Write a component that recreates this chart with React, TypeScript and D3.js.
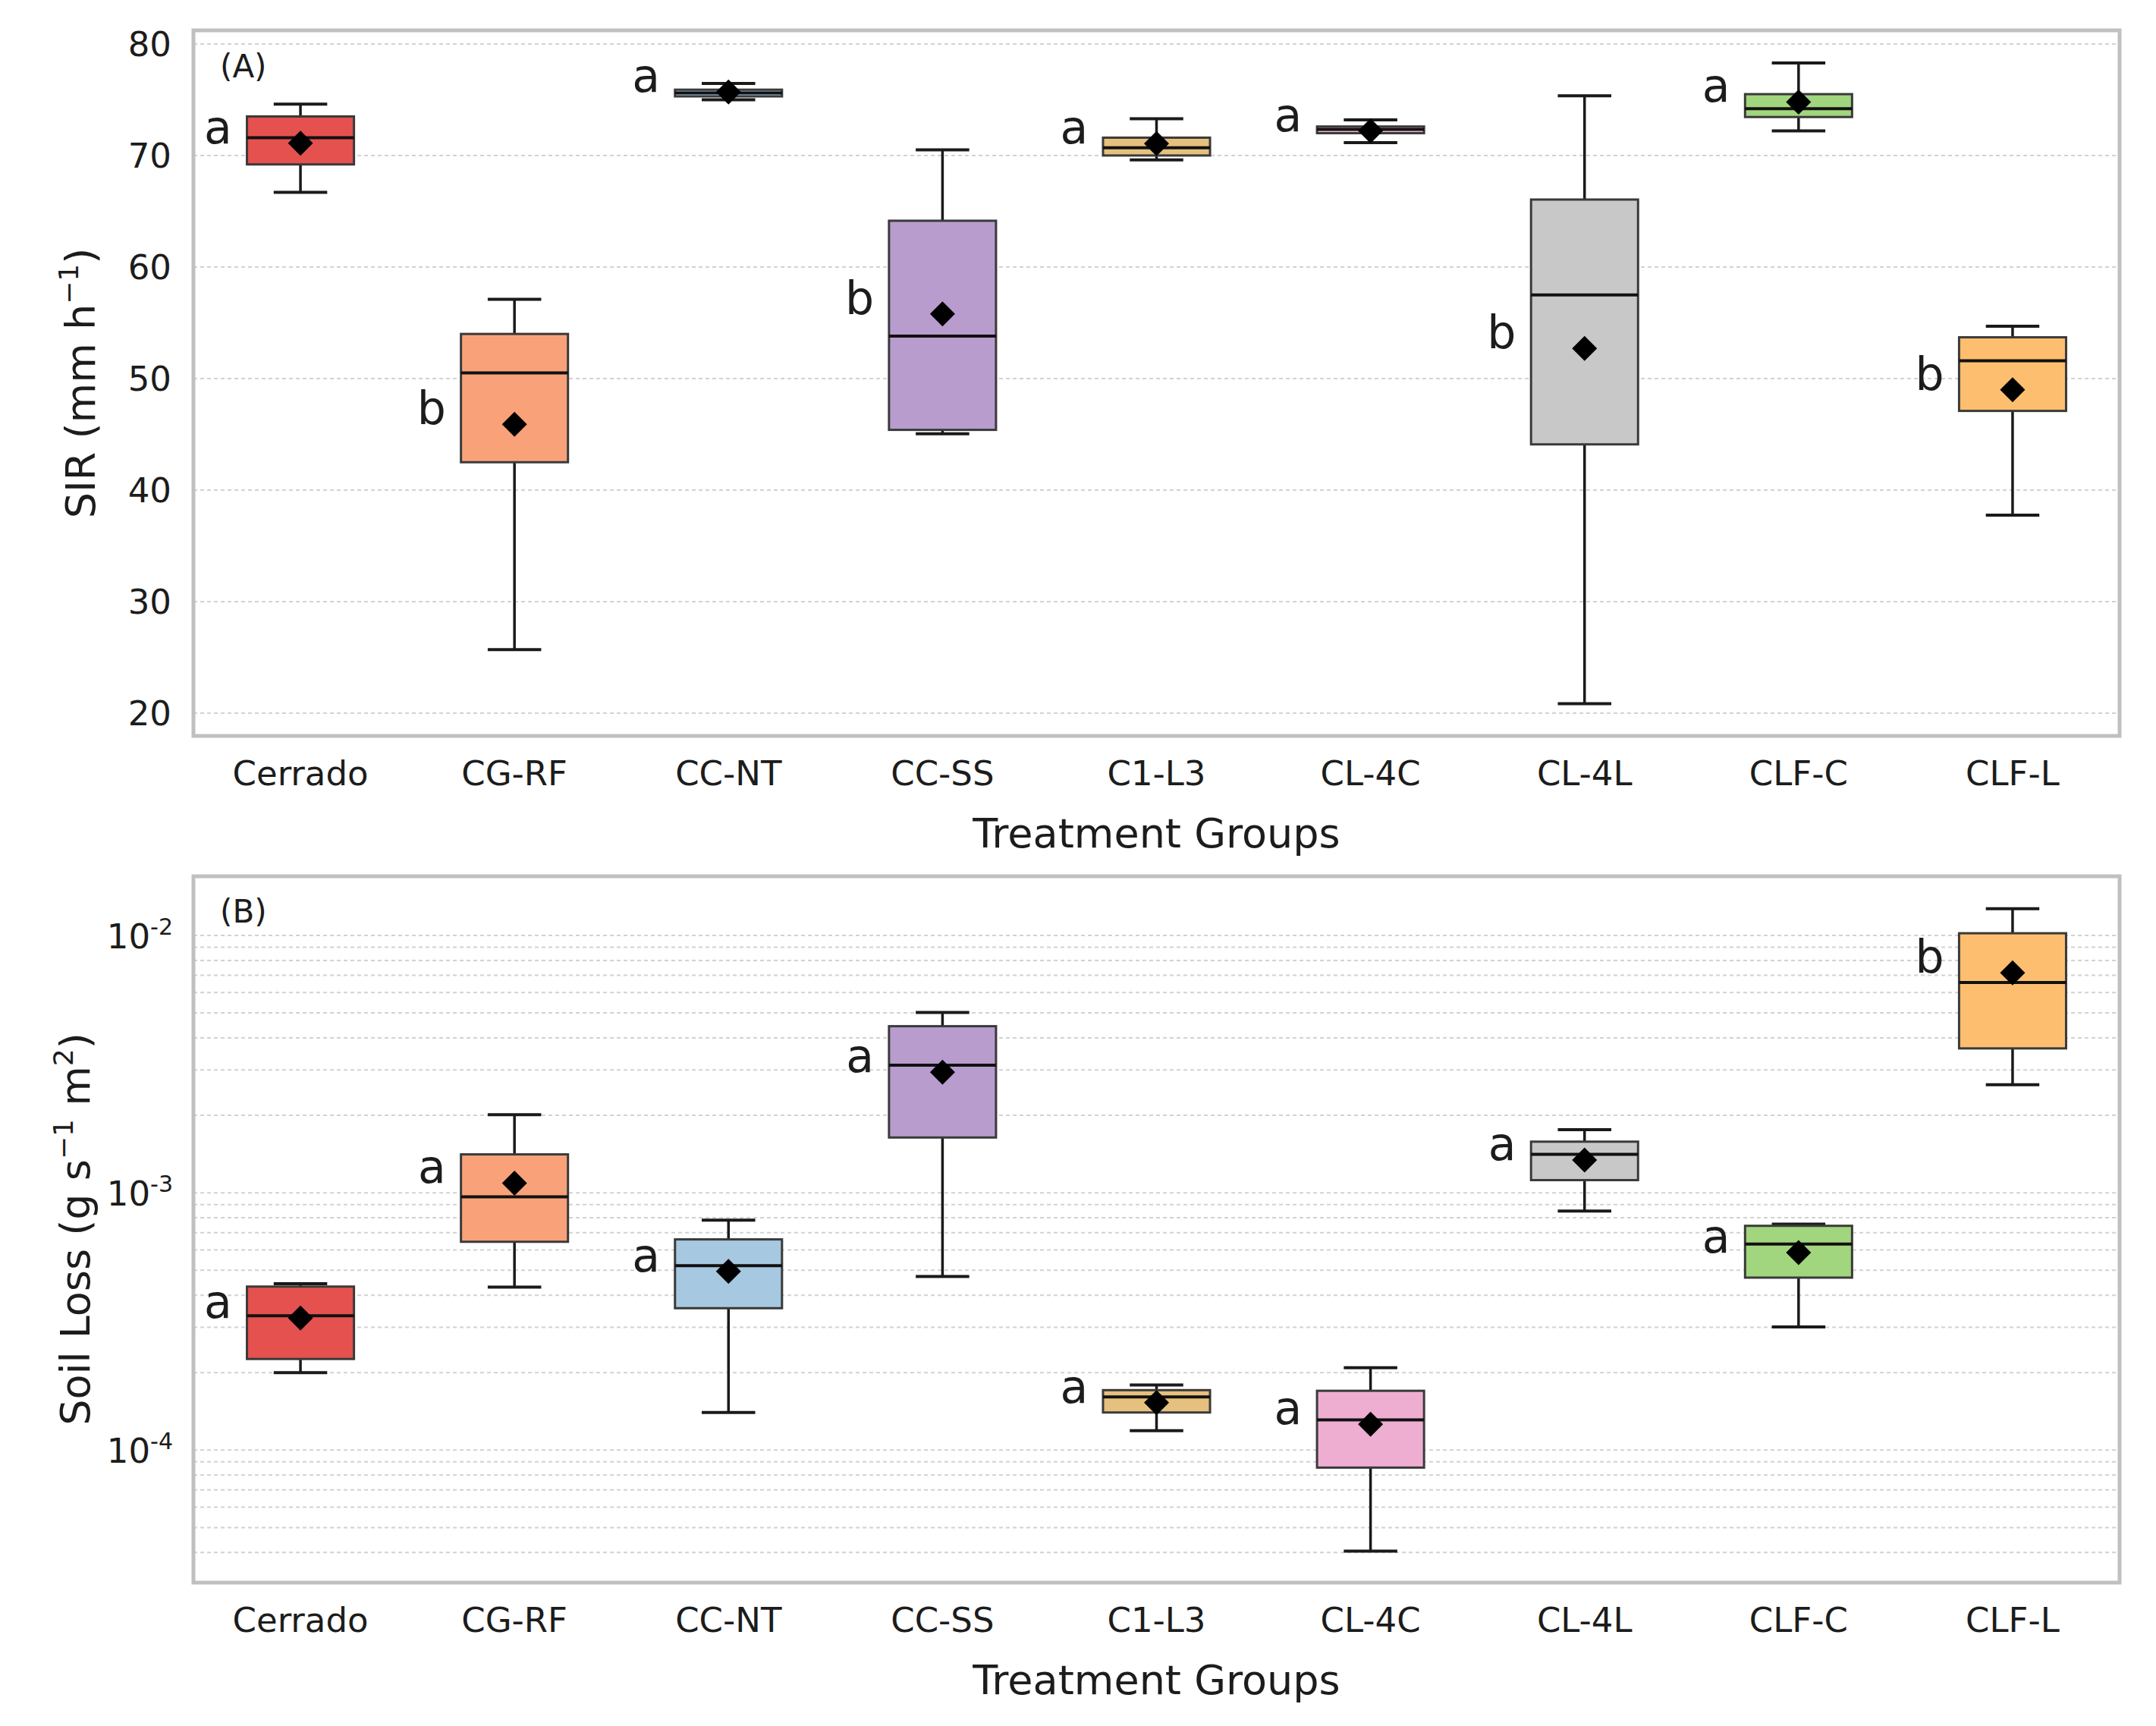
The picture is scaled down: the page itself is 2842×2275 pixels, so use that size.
import React from 'react';
import * as d3 from 'd3';

// treatment groups and box colours
const groups = ['Cerrado', 'CG-RF', 'CC-NT', 'CC-SS', 'C1-L3', 'CL-4C', 'CL-4L', 'CLF-C', 'CLF-L'];
const boxColors = ['#e5514e', '#f9a27a', '#a6c8e0', '#b99cce', '#e5c07e', '#eeaed2', '#c8c8c8', '#a2d67e', '#fdbf6f'];

// (A) SIR (mm h-1)
const sirLow = [66.7, 25.7, 75.0, 45.05, 69.6, 71.15, 20.85, 72.2, 37.75];
const sirQ1 = [69.2, 42.5, 75.3, 45.4, 70.0, 72.0, 44.1, 73.45, 47.1];
const sirMedian = [71.6, 50.5, 75.6, 53.8, 70.7, 72.35, 57.5, 74.2, 51.6];
const sirQ3 = [73.5, 54.0, 75.9, 64.15, 71.6, 72.6, 66.05, 75.5, 53.7];
const sirHigh = [74.6, 57.1, 76.45, 70.5, 73.3, 73.2, 75.35, 78.3, 54.7];
const sirMean = [71.1, 45.9, 75.7, 55.8, 71.06, 72.2, 52.7, 74.8, 49.0];
const sirLetters = ['a', 'b', 'a', 'b', 'a', 'a', 'b', 'a', 'b'];
const sirTicks = [20, 30, 40, 50, 60, 70, 80];

// (B) Soil loss (g s-1 m2)
const lossLow = [2.0e-4, 4.3e-4, 1.4e-4, 4.73e-4, 1.19e-4, 4.05e-5, 8.49e-4, 3.01e-4, 2.63e-3];
const lossQ1 = [2.26e-4, 6.45e-4, 3.56e-4, 1.64e-3, 1.4e-4, 8.55e-5, 1.12e-3, 4.68e-4, 3.64e-3];
const lossMedian = [3.33e-4, 9.65e-4, 5.21e-4, 3.13e-3, 1.61e-4, 1.31e-4, 1.41e-3, 6.32e-4, 6.57e-3];
const lossQ3 = [4.32e-4, 1.41e-3, 6.59e-4, 4.44e-3, 1.71e-4, 1.7e-4, 1.58e-3, 7.44e-4, 1.02e-2];
const lossHigh = [4.43e-4, 2.01e-3, 7.83e-4, 5.02e-3, 1.79e-4, 2.09e-4, 1.76e-3, 7.55e-4, 1.27e-2];
const lossMean = [3.26e-4, 1.09e-3, 4.95e-4, 2.94e-3, 1.53e-4, 1.26e-4, 1.34e-3, 5.86e-4, 7.16e-3];
const lossLetters = ['a', 'a', 'a', 'a', 'a', 'a', 'a', 'a', 'b'];
const lossTicks = [1e-4, 1e-3, 1e-2];

const W = 2842;
const H = 2275;
const FONT = 'DejaVu Sans';
const TXT = '#1c1c1c';

const x = d3.scalePoint<string>().domain(groups).range([255, 2794]).padding(0.5);
const step = x.step();
const boxW = step * 0.5;

function Boxes({ y, low, q1, med, q3, high, mean, letters }: any) {
  return (
    <g>
      {groups.map((g, i) => {
        const cx = x(g)!;
        const ym = y(mean[i]);
        return (
          <g key={g}>
            <line x1={cx} x2={cx} y1={y(high[i])} y2={y(q3[i])} stroke="#1a1a1a" strokeWidth={3.5} />
            <line x1={cx} x2={cx} y1={y(q1[i])} y2={y(low[i])} stroke="#1a1a1a" strokeWidth={3.5} />
            <line x1={cx - boxW / 4} x2={cx + boxW / 4} y1={y(high[i])} y2={y(high[i])} stroke="#1a1a1a" strokeWidth={4} />
            <line x1={cx - boxW / 4} x2={cx + boxW / 4} y1={y(low[i])} y2={y(low[i])} stroke="#1a1a1a" strokeWidth={4} />
            <rect x={cx - boxW / 2} y={y(q3[i])} width={boxW} height={Math.max(1, y(q1[i]) - y(q3[i]))}
              fill={boxColors[i]} stroke="#3a3a3a" strokeWidth={3} />
            <line x1={cx - boxW / 2} x2={cx + boxW / 2} y1={y(med[i])} y2={y(med[i])} stroke="#111" strokeWidth={4} />
            <path d="M0,-16.5L16.5,0L0,16.5L-16.5,0Z" transform={`translate(${cx},${ym})`} fill="#000" />
            <text x={cx - step * 0.32} y={ym} textAnchor="end" fontSize={60} fontFamily={FONT} fill={TXT}>{letters[i]}</text>
          </g>
        );
      })}
    </g>
  );
}

function XAxis({ bottom }: { bottom: number }) {
  return (
    <g fontFamily={FONT} fill={TXT}>
      {groups.map(g => (
        <text key={g} x={x(g)} y={bottom + 65} textAnchor="middle" fontSize={45}>{g}</text>
      ))}
      <text x={(255 + 2794) / 2} y={bottom + 147} textAnchor="middle" fontSize={54}>Treatment Groups</text>
    </g>
  );
}

export default function App() {
  const yA = d3.scaleLinear().domain([17.96, 81.22]).range([970, 40]);
  const yB = d3.scaleLog().domain([Math.pow(10, -4.515), Math.pow(10, -1.77)]).range([2086, 1155]);
  const [b0, b1] = yB.domain();
  const minorB = yB.ticks().filter(v => v >= b0 && v <= b1);

  return (
    <svg width={W} height={H} style={{ position: 'absolute', left: 0, top: 0, background: '#fff' }}>
      <rect width={W} height={H} fill="#fff" />

      {/* Panel A */}
      <g>
        {sirTicks.map(t => (
          <line key={t} x1={255} x2={2794} y1={yA(t)} y2={yA(t)} stroke="#d2d2d2" strokeWidth={2} strokeDasharray="5,4" />
        ))}
        <Boxes y={yA} low={sirLow} q1={sirQ1} med={sirMedian} q3={sirQ3} high={sirHigh} mean={sirMean} letters={sirLetters} />
        <rect x={255} y={40} width={2794 - 255} height={970 - 40} fill="none" stroke="#c0c0c0" strokeWidth={5} />
        <text x={290} y={102} fontSize={42} fontFamily={FONT} fill={TXT}>(A)</text>
        {sirTicks.map(t => (
          <text key={t} x={226} y={yA(t) + 16} textAnchor="end" fontSize={45} fontFamily={FONT} fill={TXT}>{t}</text>
        ))}
        <text transform={`translate(125,505) rotate(-90)`} textAnchor="middle" fontSize={54} fontFamily={FONT} fill={TXT}>
          SIR (mm h<tspan fontSize={36} dy={-22}>−1</tspan><tspan dy={22}>)</tspan>
        </text>
        <XAxis bottom={970} />
      </g>

      {/* Panel B */}
      <g>
        {minorB.map(t => (
          <line key={t} x1={255} x2={2794} y1={yB(t)} y2={yB(t)} stroke="#d2d2d2" strokeWidth={2} strokeDasharray="5,4" />
        ))}
        <Boxes y={yB} low={lossLow} q1={lossQ1} med={lossMedian} q3={lossQ3} high={lossHigh} mean={lossMean} letters={lossLetters} />
        <rect x={255} y={1155} width={2794 - 255} height={2086 - 1155} fill="none" stroke="#c0c0c0" strokeWidth={5} />
        <text x={290} y={1216} fontSize={42} fontFamily={FONT} fill={TXT}>(B)</text>
        {lossTicks.map(t => (
          <text key={t} x={228} y={yB(t) + 17} textAnchor="end" fontSize={45} fontFamily={FONT} fill={TXT}>
            10<tspan fontSize={30} dy={-18}>{String(Math.round(Math.log10(t)))}</tspan>
          </text>
        ))}
        <text transform={`translate(118,1620) rotate(-90)`} textAnchor="middle" fontSize={54} fontFamily={FONT} fill={TXT}>
          Soil Loss (g s<tspan fontSize={36} dy={-22}>−1</tspan><tspan dy={22}> m</tspan><tspan fontSize={36} dy={-22}>2</tspan><tspan dy={22}>)</tspan>
        </text>
        <XAxis bottom={2086} />
      </g>
    </svg>
  );
}
